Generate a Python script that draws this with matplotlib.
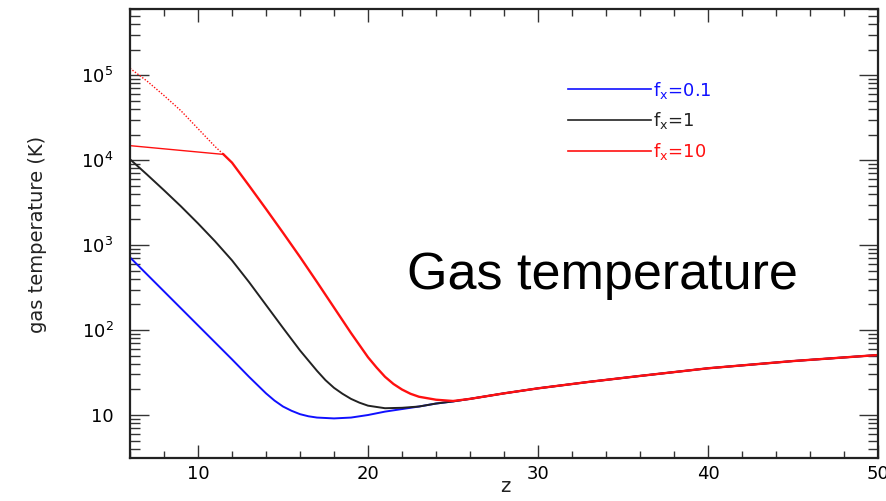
"""Gas temperature versus redshift for three X-ray heating efficiencies."""

import matplotlib

matplotlib.use("Agg")
import matplotlib.pyplot as plt
import numpy as np
from matplotlib.ticker import FixedLocator, LogLocator, NullFormatter

# log10(T / K)
blue_z = [6, 7, 8, 9, 10, 11, 12, 13, 14, 14.5, 15, 15.5, 16, 16.5, 17, 18, 19, 20, 21, 22, 23, 24, 25]
blue_log_t = [2.855, 2.655, 2.455, 2.255, 2.055, 1.855, 1.655, 1.45, 1.255, 1.17, 1.10, 1.05, 1.01, 0.985,
              0.97, 0.96, 0.97, 1.00, 1.04, 1.07, 1.10, 1.135, 1.16]

black_z = [6, 7, 8, 9, 10, 11, 12, 13, 14, 15, 16, 17, 17.5, 18, 18.5, 19, 19.5, 20, 21, 22, 23, 24, 25]
black_log_t = [4.01, 3.83, 3.645, 3.455, 3.255, 3.045, 2.82, 2.565, 2.295, 2.025, 1.76, 1.52, 1.41, 1.32,
               1.25, 1.19, 1.145, 1.11, 1.08, 1.085, 1.10, 1.135, 1.16]

red_hot_z = [6, 7, 8, 9, 10, 11, 11.5]
red_hot_log_t = [5.08, 4.93, 4.76, 4.58, 4.37, 4.16, 4.067]

red_z = [6, 11.5, 12, 13, 14, 15, 16, 17, 18, 19, 20, 20.5, 21, 21.5, 22, 22.5, 23, 24, 25]
red_log_t = [4.17, 4.067, 3.97, 3.70, 3.425, 3.145, 2.86, 2.565, 2.265, 1.965, 1.68, 1.56, 1.45, 1.365,
             1.30, 1.25, 1.215, 1.18, 1.165]

# all three runs share the adiabatic tail
tail_z = [26, 28, 30, 33, 36, 40, 45, 50]
tail_log_t = [1.19, 1.255, 1.314, 1.39, 1.46, 1.55, 1.635, 1.706]

labels = [r"$\mathrm{f_x}$=0.1", r"$\mathrm{f_x}$=1", r"$\mathrm{f_x}$=10"]
x_ticks = [10, 20, 30, 40, 50]
y_ticks = [10, 1e2, 1e3, 1e4, 1e5]
y_tick_labels = ["10", r"$10^2$", r"$10^3$", r"$10^4$", r"$10^5$"]


def series(z, log_t):
    zz = np.concatenate([z, tail_z])
    tt = 10 ** np.concatenate([log_t, tail_log_t])
    return zz, tt


fig = plt.figure(figsize=(8.87, 5.01), dpi=100)
ax = fig.add_axes([130 / 887, 43 / 501, 748 / 887, 449 / 501])

z, t = series(blue_z, blue_log_t)
ax.plot(z, t, color="#1010ff", linewidth=1.4, label=labels[0])
z, t = series(black_z, black_log_t)
ax.plot(z, t, color="#222222", linewidth=1.4, label=labels[1])

red_z_arr = np.array(red_z)
red_t = 10 ** np.array(red_log_t)
flat = red_z_arr <= 11.5
ax.plot(red_z_arr[flat], red_t[flat], color="#ff1010", linewidth=1.0)
ax.plot(red_hot_z, 10 ** np.array(red_hot_log_t), color="#ff1010", linewidth=1.0, linestyle=(0, (1, 1.2)))
z, t = series(red_z[1:], red_log_t[1:])
ax.plot(z, t, color="#ff1010", linewidth=1.7, label=labels[2])

ax.set_yscale("log")
ax.set_xlim(6, 50)
ax.set_ylim(3.12, 6e5)

ax.xaxis.set_major_locator(FixedLocator(x_ticks))
ax.xaxis.set_minor_locator(FixedLocator(np.arange(6, 51, 2)))
ax.set_xticklabels([str(v) for v in x_ticks])
ax.yaxis.set_major_locator(FixedLocator(y_ticks))
ax.yaxis.set_minor_locator(LogLocator(base=10, subs=np.arange(2, 10)))
ax.yaxis.set_minor_formatter(NullFormatter())
ax.set_yticklabels(y_tick_labels)

ax.tick_params(which="both", direction="in", top=True, right=True, width=1.0, color="#333333")
ax.tick_params(axis="x", which="major", length=9.5, labelsize=13, pad=5)
ax.tick_params(axis="x", which="minor", length=5)
ax.tick_params(axis="y", which="major", length=14, labelsize=13, pad=12)
ax.tick_params(axis="y", which="minor", length=7)
for spine in ax.spines.values():
    spine.set_linewidth(1.6)
    spine.set_color("#222222")

leg = ax.legend(
    loc="center left",
    bbox_to_anchor=(438 / 748, 337 / 449),
    frameon=False,
    fontsize=13,
    handlelength=4.6,
    handletextpad=0.1,
    labelspacing=0.55,
    borderpad=0,
    borderaxespad=0,
    labelcolor="linecolor",
)
for line in leg.get_lines():
    line.set_linewidth(1.2)

fig.text(38 / 887, 1 - 234 / 501, "gas temperature (K)", rotation=90, ha="center", va="center",
         fontsize=14, family=["Liberation Sans Narrow", "DejaVu Sans"], color="#222222")
fig.text(505 / 887, 1 - 487 / 501, "z", ha="center", va="center", fontsize=14, color="#222222")
fig.text(407 / 887, 1 - 289 / 501, "Gas temperature", ha="left", va="baseline",
         fontsize=37.5, family="Liberation Sans", color="black")

fig.savefig("out.png", dpi=100)
